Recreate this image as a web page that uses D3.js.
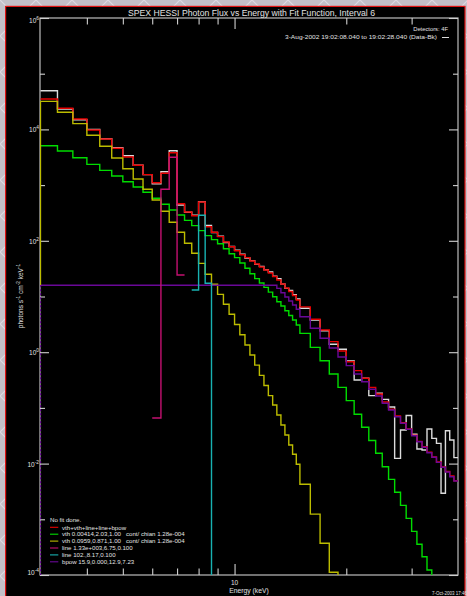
<!DOCTYPE html>
<html>
<head>
<meta charset="utf-8">
<script src="https://cdn.jsdelivr.net/npm/d3@7"></script>
<style>
  html, body { margin: 0; padding: 0; background: #c3c0c8; overflow: hidden; }
  text { font-family: "Liberation Sans", Arial, sans-serif; fill: #e2e2e2; }
</style>
</head>
<body>
<svg id="chart" width="467" height="596"></svg>
<script>
// Energy bin edges (keV): 1/3 keV bins up to 15 keV, then 1 keV bins
const energyEdges = [3, 3.333, 3.667, 4, 4.333, 4.667, 5, 5.333, 5.667, 6, 6.333, 6.667,
  7, 7.333, 7.667, 8, 8.333, 8.667, 9, 9.333, 9.667, 10, 10.333, 10.667, 11, 11.333, 11.667,
  12, 12.333, 12.667, 13, 13.333, 13.667, 14, 14.333, 14.667, 15, 16, 17, 18, 19, 20, 21, 22,
  23, 24, 25, 26, 27, 28, 29, 30, 31, 32, 33, 34, 35, 36, 37, 38, 39, 40];

// Observed photon flux (Data-Bk), photons s^-1 cm^-2 keV^-1, one value per bin
const dataFlux = [4.95e4, 2.32e4, 1.49e4, 1.00e4, 6.81e3, 4.69e3, 3.37e3, 2.27e3, 1.54e3, 1.05e3, 1.74e3, 4.15e3,
  440, 325, 287, 504, 188, 141, 121, 93.1, 79.0, 67.5, 57.3, 49.1,
  44.0, 37.8, 34.8, 30.3, 27.5, 23.1, 20.9, 16.8, 14.0, 12.9, 10.8, 9.02,
  6.14, 3.78, 2.42, 1.39, 1.13, 0.695, 0.317, 0.340, 0.166, 0.183, 0.142, 0.104,
  0.0124, 0.0401, 0.0731, 0.0336, 0.0183, 0.0175, 0.0418, 0.0284, 0.0231, 0.00293, 0.0390, 0.0265, 0.0128];

// Total model vth+vth+line+line+bpow
const totalFlux = [3.52e4, 2.39e4, 1.54e4, 9.76e3, 6.73e3, 4.58e3, 3.19e3, 2.27e3, 1.54e3, 1.10e3, 1.63e3, 3.82e3,
  464, 329, 282, 498, 179, 142, 119, 95.1, 78.3, 66.4, 56.2, 49.8,
  43.4, 38.3, 33.9, 29.9, 26.4, 22.9, 19.8, 16.8, 14.2, 12.3, 10.4, 8.65,
  6.5, 3.9, 2.50, 1.55, 1.05, 0.675, 0.466, 0.340, 0.234, 0.178, 0.128, 0.0944,
  0.0716, 0.0542, 0.0418, 0.0322, 0.0251, 0.0201, 0.0161, 0.0131, 0.0107, 0.00869, 0.00721, 0.00598, 0.00493];

// Hot thermal component (vth 0.00414, 2.03 keV)
const vthHotFlux = [5.10e3, 4.09e3, 3.10e3, 2.36e3, 1.84e3, 1.46e3, 1.15e3, 925, 743, 579, 452, 357,
  291, 233, 187, 152, 124, 105, 88.7, 72.1, 58.6, 49.8, 39.9, 32.1,
  25.6, 20.9, 17.5, 14.6, 12.0, 9.91, 8.07, 6.75, 5.56, 4.56, 3.78, 3.08,
  2.18, 1.22, 0.703, 0.406, 0.234, 0.135, 0.0767, 0.0449, 0.0260, 0.0153, 0.00879, 0.00522,
  0.00305, 0.00178, 0.00104, 6.08e-4, 3.56e-4, 2.13e-4, 1.23e-4, 7.0e-5];

// Cool thermal component (vth 0.0959, 0.871 keV)
const vthCoolFlux = [3.19e4, 2.03e4, 1.27e4, 7.84e3, 4.97e3, 3.07e3, 1.97e3, 1.29e3, 841, 540, 339, 215,
  142, 90.2, 59.7, 39.4, 25.1, 16.6, 10.9, 7.24, 4.79, 3.14, 2.06, 1.35,
  0.891, 0.585, 0.383, 0.252, 0.166, 0.113, 0.0746, 0.0493, 0.0326, 0.0216, 0.0147, 0.00971,
  0.00425, 0.00124, 3.71e-4, 1.12e-4, 3.3e-5];

// Broken power law (15.9, 0.000, 12.9, 7.23)
const bpowFlux = [15.9, 15.9, 15.9, 15.9, 15.9, 15.9, 15.9, 15.9, 15.9, 15.9, 15.9, 15.9,
  15.9, 15.9, 15.9, 15.9, 15.9, 15.9, 15.9, 15.9, 15.9, 15.9, 15.9, 15.9,
  15.9, 15.9, 15.9, 15.9, 15.9, 15.9, 14.0, 11.7, 9.80, 8.30, 7.03, 5.89,
  4.34, 2.69, 1.78, 1.19, 0.820, 0.573, 0.406, 0.295, 0.216, 0.164, 0.121, 0.0916,
  0.0695, 0.0530, 0.0413, 0.0317, 0.0247, 0.0196, 0.0157, 0.0130, 0.0105, 0.00859, 0.00706, 0.00582, 0.00488];

// Gaussian lines: Fe complex at 6.75 keV and Fe/Ni at 8.17 keV (first bin index + values)
const lineFeStart = 9;
const lineFeFlux = [0.0659, 841, 3.16e3, 24.3];
const lineNiStart = 14;
const lineNiFlux = [13.1, 287, 17.3, 3.0e-5];

// Axis ticks
const yMajorTicks = [1e-4, 1e-2, 1, 1e2, 1e4, 1e6];
const yMajorExp = ["-4", "-2", "0", "2", "4", "6"];
const yMinorTicks = [1e-3, 1e-1, 10, 1e3, 1e5];
const xMajorTicks = [10];
const xMinorTicks = [4, 5, 6, 7, 8, 9, 20, 30];

// Legend
const legendTitle = "No fit done.";
const legendLabels = [
  "vth+vth+line+line+bpow",
  "vth 0.00414,2.03,1.00   cont/ chian 1.28e-004",
  "vth 0.0959,0.871,1.00   cont/ chian 1.28e-004",
  "line 1.33e+003,6.75,0.100",
  "line 102.,8.17,0.100",
  "bpow 15.9,0.000,12.9,7.23"
];

const W = 467, H = 596;
const box = { left: 40, right: 458, top: 18, bottom: 575 };
const colors = {
  data: "#dcdcdc", total: "#e80000", hot: "#00dc00", cool: "#bcbc00",
  bpow: "#6a0898", fe: "#c41070", ni: "#18b2b2", axis: "#bdbdbd"
};

const svg = d3.select("#chart");
const x = d3.scaleLog().domain([3, 40]).range([40.5, box.right]);
const y = d3.scaleLog().domain([1e-4, 1e6]).range([box.bottom, box.top]);

// Window background and frame
const defs = svg.append("defs");
const pat = defs.append("pattern").attr("id", "bgpat")
  .attr("patternUnits", "userSpaceOnUse").attr("width", 36).attr("height", 36);
pat.append("rect").attr("width", 36).attr("height", 36).attr("fill", "#c3c0c8");
pat.append("path").attr("d", "M0,0L36,36M36,0L0,36")
  .attr("stroke", "#dcd9e2").attr("stroke-width", 1.2);
svg.append("rect").attr("width", W).attr("height", H).attr("fill", "url(#bgpat)");
svg.append("rect").attr("x", 5.6).attr("y", 6.4).attr("width", 459.4).attr("height", H)
  .attr("fill", "#000").attr("stroke", "#e01414").attr("stroke-width", 1.2);

defs.append("clipPath").attr("id", "plotclip").append("rect")
  .attr("x", box.left).attr("y", box.top)
  .attr("width", box.right - box.left).attr("height", box.bottom - box.top);

// Plot frame
svg.append("rect").attr("x", box.left).attr("y", box.top)
  .attr("width", box.right - box.left).attr("height", box.bottom - box.top)
  .attr("fill", "none").attr("stroke", colors.axis).attr("stroke-width", 1.2);

// Ticks on all four sides
function tickSet(axisGen, values, size, tx, ty) {
  svg.append("g").attr("transform", `translate(${tx},${ty})`)
    .call(axisGen.tickValues(values).tickSize(size).tickFormat(""))
    .call(g => {
      g.select(".domain").remove();
      g.selectAll("line").attr("stroke", "#d0d0d0").attr("stroke-width", 1.1);
    });
}
tickSet(d3.axisLeft(y), yMajorTicks, -9, box.left, 0);
tickSet(d3.axisLeft(y), yMinorTicks, -5, box.left, 0);
tickSet(d3.axisRight(y), yMajorTicks, -9, box.right, 0);
tickSet(d3.axisRight(y), yMinorTicks, -5, box.right, 0);
tickSet(d3.axisBottom(x), xMajorTicks, -11, 0, box.bottom);
tickSet(d3.axisBottom(x), xMinorTicks, -6.5, 0, box.bottom);
tickSet(d3.axisTop(x), xMajorTicks, -11, 0, box.top);
tickSet(d3.axisTop(x), xMinorTicks, -6.5, 0, box.top);

// Y tick labels 10^n
yMajorTicks.forEach((v, i) => {
  const base = Math.min(Math.max(y(v) + 3, 23), 574.5);
  const t = svg.append("text").attr("x", 39).attr("y", base)
    .attr("text-anchor", "end").style("font-size", "6.5px");
  t.append("tspan").text("10");
  t.append("tspan").attr("dy", -3).style("font-size", "4.8px").text(yMajorExp[i]);
});

// X tick label
xMajorTicks.forEach(v => {
  svg.append("text").attr("x", x(v)).attr("y", 585)
    .attr("text-anchor", "middle").style("font-size", "6.5px").text(String(v));
});

// Histogram series
const stepLine = d3.line().x(d => x(d[0])).y(d => y(d[1]));
function stepPoints(values, start) {
  const pts = [];
  values.forEach((v, k) => {
    const i = start + k;
    pts.push([energyEdges[i], v], [energyEdges[i + 1], v]);
  });
  return pts;
}
const series = [
  { values: dataFlux, start: 0, color: colors.data },
  { values: totalFlux, start: 0, color: colors.total },
  { values: vthHotFlux, start: 0, color: colors.hot },
  { values: vthCoolFlux, start: 0, color: colors.cool },
  { values: bpowFlux, start: 0, color: colors.bpow },
  { values: lineFeFlux, start: lineFeStart, color: colors.fe },
  { values: lineNiFlux, start: lineNiStart, color: colors.ni }
];
const plotG = svg.append("g").attr("clip-path", "url(#plotclip)");
series.forEach(s => {
  plotG.append("path").attr("d", stepLine(stepPoints(s.values, s.start)))
    .attr("fill", "none").attr("stroke", s.color).attr("stroke-width", 1.4)
    .attr("stroke-linejoin", "miter");
});

// Leading edges of the cool thermal and power-law histograms along the left axis
plotG.append("line")
  .attr("x1", x(energyEdges[0])).attr("x2", x(energyEdges[0]))
  .attr("y1", y(vthCoolFlux[0])).attr("y2", y(bpowFlux[0]))
  .attr("stroke", colors.cool).attr("stroke-width", 1.3);
plotG.append("line")
  .attr("x1", x(energyEdges[0])).attr("x2", x(energyEdges[0]))
  .attr("y1", y(bpowFlux[0])).attr("y2", box.bottom)
  .attr("stroke", colors.bpow).attr("stroke-width", 1.3).attr("stroke-dasharray", "2,2");

// Title and annotations
svg.append("text").attr("x", 251.5).attr("y", 15.5).attr("text-anchor", "middle")
  .attr("textLength", 247).attr("lengthAdjust", "spacingAndGlyphs")
  .style("font-size", "8.5px")
  .text("SPEX HESSI Photon Flux vs Energy with Fit Function, Interval 6");
svg.append("text").attr("x", 448).attr("y", 31).attr("text-anchor", "end")
  .style("font-size", "5.8px").text("Detectors: 4F");
svg.append("text").attr("x", 285).attr("y", 39.3)
  .attr("textLength", 152).attr("lengthAdjust", "spacingAndGlyphs")
  .style("font-size", "6px")
  .text("3-Aug-2002 19:02:08.040 to 19:02:28.040 (Data-Bk)");
svg.append("line").attr("x1", 442).attr("x2", 449).attr("y1", 37.5).attr("y2", 37.5)
  .attr("stroke", colors.data).attr("stroke-width", 1);

// Axis titles
const yTitle = svg.append("text").attr("transform", "translate(22.5,296) rotate(-90)")
  .attr("text-anchor", "middle").style("font-size", "6.5px");
[["photons s", null], ["-1", "sup"], [" cm", null], ["-2", "sup"], [" keV", null], ["-1", "sup"]]
  .forEach(([txt, kind], i, arr) => {
    const prevSup = i > 0 && arr[i - 1][1] === "sup";
    const ts = yTitle.append("tspan").text(txt).style("white-space", "pre");
    if (kind === "sup") ts.attr("dy", -3).style("font-size", "4.8px");
    else if (prevSup) ts.attr("dy", 3);
  });
svg.append("text").attr("x", 249).attr("y", 593).attr("text-anchor", "middle")
  .style("font-size", "6.8px").text("Energy (keV)");
svg.append("text").attr("x", 432).attr("y", 594.5)
  .style("font-size", "4.5px").text("7-Oct-2003 17:46");

// Legend
svg.append("text").attr("x", 50).attr("y", 522.3).style("font-size", "6.1px").text(legendTitle);
const legendColors = [colors.total, colors.hot, colors.cool, colors.fe, colors.ni, colors.bpow];
legendLabels.forEach((lab, i) => {
  const cy = 527.3 + i * 6.9;
  svg.append("line").attr("x1", 50).attr("x2", 58.3).attr("y1", cy).attr("y2", cy)
    .attr("stroke", legendColors[i]).attr("stroke-width", 1.1);
  svg.append("text").attr("x", 62).attr("y", cy + 2.2)
    .style("font-size", "6.1px").style("white-space", "pre").text(lab);
});
</script>
</body>
</html>
